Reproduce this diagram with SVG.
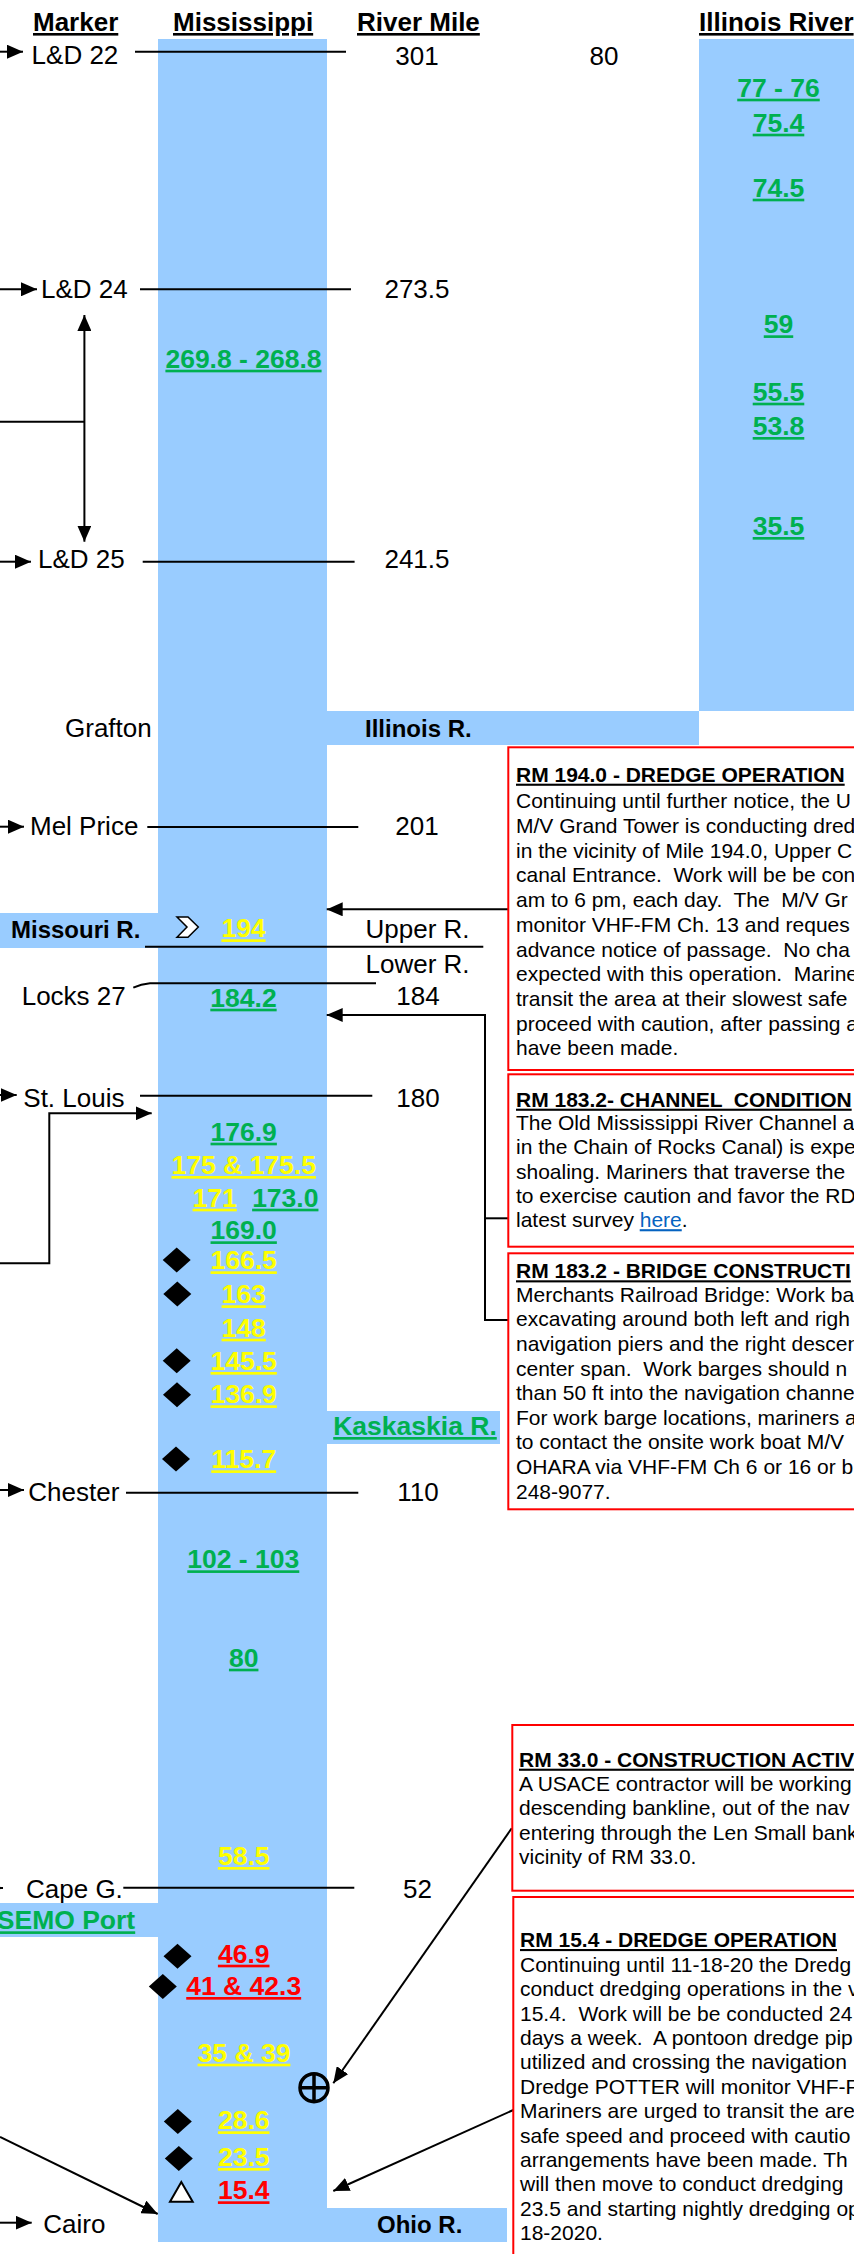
<svg xmlns="http://www.w3.org/2000/svg" width="854" height="2254" viewBox="0 0 854 2254">
<style>
text{font-family:"Liberation Sans",Arial,sans-serif}
.h{font-weight:bold;font-size:26px;text-decoration:underline;fill:#000}
.t{font-size:26px;fill:#000}
.rm{font-size:26px;fill:#000;text-anchor:middle}
.rb{font-weight:bold;font-size:24px;fill:#000}
.n{font-weight:bold;font-size:26.5px;text-anchor:middle;text-decoration:underline}
.g{fill:#00B050}
.y{fill:#FFFF00}
.r{fill:#FF0000}
.bt{font-weight:bold;font-size:21px;text-decoration:underline;fill:#000}
.bb{font-size:21px;fill:#000}
.lnk{fill:#0563C1;text-decoration:underline}
.water{fill:#99CCFF}
.box{fill:#fff;stroke:#FF0000;stroke-width:2}
.c{fill:none;stroke:#000;stroke-width:2}
.dia{fill:#000}
</style>
<defs>
<marker id="ah" viewBox="0 0 16 14" refX="16" refY="7" markerWidth="16" markerHeight="14" markerUnits="userSpaceOnUse" orient="auto-start-reverse"><path d="M0,0 L16,7 L0,14 z" fill="#000"/></marker>
</defs>
<rect width="854" height="2254" fill="#fff"/>

<g id="rivers">
<rect class="water" x="158" y="39" width="169" height="2203"/>
<rect class="water" x="699" y="39" width="160" height="672"/>
<rect id="illinois-band" class="water" x="327" y="711" width="372" height="34"/>
<rect id="missouri-band" class="water" x="0" y="913" width="158" height="35"/>
<rect id="kaskaskia-band" class="water" x="327" y="1411" width="173" height="33"/>
<rect id="semo-band" class="water" x="0" y="1903" width="158" height="34"/>
<rect id="ohio-band" class="water" x="327" y="2208" width="180" height="34"/>
</g>

<g id="headers">
<text class="h" x="33" y="31">Marker</text>
<text class="h" x="173" y="31">Mississippi</text>
<text class="h" x="357" y="31">River Mile</text>
<text class="h" x="699" y="31">Illinois River</text>
</g>

<g id="connectors">
<path class="c" d="M0,51.7 H23" marker-end="url(#ah)"/>
<path class="c" d="M135,51.7 H346"/>
<path class="c" d="M0,289.3 H37" marker-end="url(#ah)"/>
<path class="c" d="M140,289.3 H351"/>
<path class="c" d="M84.4,315 V541.7" marker-start="url(#ah)" marker-end="url(#ah)"/>
<path class="c" d="M0,421.7 H84.4"/>
<path class="c" d="M0,561.7 H31" marker-end="url(#ah)"/>
<path class="c" d="M142.7,561.7 H354.6"/>
<path class="c" d="M0,826.7 H24" marker-end="url(#ah)"/>
<path class="c" d="M147.3,827 H358.3"/>
<path class="c" d="M508.3,909.3 H326.7" marker-end="url(#ah)"/>
<path class="c" d="M145,946.7 H483.3"/>
<path class="c" d="M133.3,987.7 Q141,984 150,983.3 H376"/>
<path class="c" d="M508.3,1218.3 H485"/>
<path class="c" d="M508.3,1320 H485 V1015 H326.7" marker-end="url(#ah)"/>
<path class="c" d="M0,1095 H16.7" marker-end="url(#ah)"/>
<path class="c" d="M140,1095.7 H372.3"/>
<path class="c" d="M0,1263.3 H49.3 V1113.3 H151.7" marker-end="url(#ah)"/>
<path class="c" d="M0,1490 H24" marker-end="url(#ah)"/>
<path class="c" d="M126,1492.7 H358.3"/>
<path class="c" d="M-20,1888 H3" marker-end="url(#ah)"/>
<path class="c" d="M123.3,1887.7 H354.3"/>
<path class="c" d="M511.7,1828.3 L333.3,2083.3" marker-end="url(#ah)"/>
<path class="c" d="M0,2137 L157.7,2214" marker-end="url(#ah)"/>
<path class="c" d="M513.3,2110 L333.3,2191" marker-end="url(#ah)"/>
<path class="c" d="M0,2222.7 H31.7" marker-end="url(#ah)"/>
</g>

<g id="markers-left">
<text class="t" x="31.6" y="64">L&amp;D 22</text>
<text class="t" x="41" y="298">L&amp;D 24</text>
<text class="t" x="38" y="568">L&amp;D 25</text>
<text class="t" x="65" y="737">Grafton</text>
<text class="t" x="30" y="835">Mel Price</text>
<text class="rb" x="11" y="938">Missouri R.</text>
<text class="t" x="21.7" y="1005">Locks 27</text>
<text class="t" x="23.3" y="1106.7">St. Louis</text>
<text class="t" x="28.3" y="1501">Chester</text>
<text class="t" x="26" y="1898">Cape G.</text>
<text class="n g" x="66" y="1929.3">SEMO Port</text>
<text class="t" x="43.3" y="2233">Cairo</text>
</g>

<g id="river-miles">
<text class="rm" x="417" y="65">301</text>
<text class="rm" x="604" y="65">80</text>
<text class="rm" x="417" y="298">273.5</text>
<text class="rm" x="417" y="568">241.5</text>
<text class="rm" x="417" y="835">201</text>
<text class="rm" x="417.5" y="938">Upper R.</text>
<text class="rm" x="417.5" y="973">Lower R.</text>
<text class="rm" x="418" y="1005">184</text>
<text class="rm" x="418" y="1106.7">180</text>
<text class="rm" x="418" y="1501">110</text>
<text class="rm" x="417.5" y="1898">52</text>
</g>

<g id="band-labels">
<text class="rb" x="365" y="736.7">Illinois R.</text>
<text class="n g" x="415" y="1435" style="text-anchor:middle">Kaskaskia R.</text>
<text class="rb" x="377" y="2233">Ohio R.</text>
</g>

<g id="illinois-miles">
<text class="n g" x="778.5" y="96.7">77 - 76</text>
<text class="n g" x="778.5" y="131.7">75.4</text>
<text class="n g" x="778.5" y="196.7">74.5</text>
<text class="n g" x="778.5" y="333.3">59</text>
<text class="n g" x="778.5" y="400.7">55.5</text>
<text class="n g" x="778.5" y="435">53.8</text>
<text class="n g" x="778.5" y="535">35.5</text>
</g>

<g id="mississippi-miles">
<text class="n g" x="243.5" y="367.7">269.8 - 268.8</text>
<polygon id="chevron" points="177,917 188,917 198.3,927 188,937.3 177,937.3 187,927" fill="#fff" stroke="#000" stroke-width="1.5"/>
<text class="n y" x="243.5" y="937.3">194</text>
<text class="n g" x="243.5" y="1006.7">184.2</text>
<text class="n g" x="243.7" y="1140.7">176.9</text>
<text class="n y" x="243.7" y="1174">175 &amp; 175.5</text>
<text class="n y" x="214.7" y="1206.7">171</text>
<text class="n g" x="285.3" y="1206.7">173.0</text>
<text class="n g" x="243.7" y="1239.3">169.0</text>
<text class="n y" x="243.7" y="1269.3">166.5</text>
<text class="n y" x="243.7" y="1303.3">163</text>
<text class="n y" x="243.7" y="1336.7">148</text>
<text class="n y" x="243.7" y="1370">145.5</text>
<text class="n y" x="243.7" y="1403.3">136.9</text>
<text class="n y" x="243.7" y="1468.3">115.7</text>
<text class="n g" x="243.3" y="1568.3">102 - 103</text>
<text class="n g" x="243.7" y="1666.7">80</text>
<text class="n y" x="243.7" y="1865">58.5</text>
<text class="n r" x="243.7" y="1962.7">46.9</text>
<text class="n r" x="243.7" y="1995">41 &amp; 42.3</text>
<text class="n y" x="244" y="2061.7">35 &amp; 39</text>
<text class="n y" x="243.7" y="2129.3">28.6</text>
<text class="n y" x="243.7" y="2166">23.5</text>
<text class="n r" x="243.7" y="2199.3">15.4</text>
</g>

<g id="symbols">
<polygon class="dia" points="176.7,1247.5 190.7,1260 176.7,1272.5 162.7,1260"/>
<polygon class="dia" points="177.3,1281.5 191.3,1294 177.3,1306.5 163.3,1294"/>
<polygon class="dia" points="176.7,1348.3 190.7,1360.8 176.7,1373.3 162.7,1360.8"/>
<polygon class="dia" points="177,1382.3 191,1394.8 177,1407.3 163,1394.8"/>
<polygon class="dia" points="176,1446.5 190,1459 176,1471.5 162,1459"/>
<polygon class="dia" points="177.5,1943.8 191.5,1956.3 177.5,1968.8 163.5,1956.3"/>
<polygon class="dia" points="162.8,1974 176.8,1986.5 162.8,1999 148.8,1986.5"/>
<polygon class="dia" points="177.8,2109 191.8,2121.5 177.8,2134 163.8,2121.5"/>
<polygon class="dia" points="178.8,2146 192.8,2158.5 178.8,2171 164.8,2158.5"/>
<polygon id="triangle" points="181.3,2182 192.7,2201.7 170,2201.7" fill="#fff" stroke="#000" stroke-width="2"/>
<g id="crosshair" fill="none" stroke="#000" stroke-width="3.5">
<circle cx="314" cy="2087.7" r="14"/>
<path d="M300,2087.7 H328 M314,2073.7 V2101.7"/>
</g>
</g>

<g id="box-rm194">
<rect class="box" x="508.3" y="747.3" width="360" height="322.7"/>
<text class="bt" x="516" y="781.7">RM 194.0 - DREDGE OPERATION</text>
<text class="bb" x="516" y="808.3" xml:space="preserve">Continuing until further notice, the U</text>
<text class="bb" x="516" y="833" xml:space="preserve">M/V Grand Tower is conducting dred</text>
<text class="bb" x="516" y="857.7" xml:space="preserve">in the vicinity of Mile 194.0, Upper C</text>
<text class="bb" x="516" y="882.4" xml:space="preserve">canal Entrance.  Work will be be con</text>
<text class="bb" x="516" y="907.1" xml:space="preserve">am to 6 pm, each day.  The  M/V Gr</text>
<text class="bb" x="516" y="931.8" xml:space="preserve">monitor VHF-FM Ch. 13 and reques</text>
<text class="bb" x="516" y="956.5" xml:space="preserve">advance notice of passage.  No cha</text>
<text class="bb" x="516" y="981.2" xml:space="preserve">expected with this operation.  Marine</text>
<text class="bb" x="516" y="1005.9" xml:space="preserve">transit the area at their slowest safe</text>
<text class="bb" x="516" y="1030.6" xml:space="preserve">proceed with caution, after passing a</text>
<text class="bb" x="516" y="1055.3" xml:space="preserve">have been made.</text>
</g>

<g id="box-rm183-channel">
<rect class="box" x="508.3" y="1074.3" width="360" height="172.4"/>
<text class="bt" x="516" y="1106.7" xml:space="preserve">RM 183.2- CHANNEL  CONDITION</text>
<text class="bb" x="516" y="1130" xml:space="preserve">The Old Mississippi River Channel a</text>
<text class="bb" x="516" y="1154.3" xml:space="preserve">in the Chain of Rocks Canal) is expe</text>
<text class="bb" x="516" y="1178.6" xml:space="preserve">shoaling. Mariners that traverse the</text>
<text class="bb" x="516" y="1202.9" xml:space="preserve">to exercise caution and favor the RD</text>
<text class="bb" x="516" y="1227.2" xml:space="preserve">latest survey <tspan class="lnk">here</tspan>.</text>
</g>

<g id="box-rm183-bridge">
<rect class="box" x="508.3" y="1253.3" width="360" height="256"/>
<text class="bt" x="516" y="1278.3">RM 183.2 - BRIDGE CONSTRUCTI</text>
<text class="bb" x="516" y="1301.7" xml:space="preserve">Merchants Railroad Bridge: Work ba</text>
<text class="bb" x="516" y="1326.3" xml:space="preserve">excavating around both left and righ</text>
<text class="bb" x="516" y="1350.9" xml:space="preserve">navigation piers and the right descen</text>
<text class="bb" x="516" y="1375.5" xml:space="preserve">center span.  Work barges should n</text>
<text class="bb" x="516" y="1400.1" xml:space="preserve">than 50 ft into the navigation channe</text>
<text class="bb" x="516" y="1424.7" xml:space="preserve">For work barge locations, mariners a</text>
<text class="bb" x="516" y="1449.3" xml:space="preserve">to contact the onsite work boat M/V</text>
<text class="bb" x="516" y="1473.9" xml:space="preserve">OHARA via VHF-FM Ch 6 or 16 or b</text>
<text class="bb" x="516" y="1498.5" xml:space="preserve">248-9077.</text>
</g>

<g id="box-rm33">
<rect class="box" x="512.3" y="1725" width="360" height="165.7"/>
<text class="bt" x="519" y="1766.7">RM 33.0 - CONSTRUCTION ACTIV</text>
<text class="bb" x="519" y="1790.5" xml:space="preserve">A USACE contractor will be working</text>
<text class="bb" x="519" y="1815" xml:space="preserve">descending bankline, out of the nav</text>
<text class="bb" x="519" y="1839.5" xml:space="preserve">entering through the Len Small bank</text>
<text class="bb" x="519" y="1864" xml:space="preserve">vicinity of RM 33.0.</text>
</g>

<g id="box-rm15">
<rect class="box" x="513.3" y="1897" width="360" height="380"/>
<text class="bt" x="520" y="1947">RM 15.4 - DREDGE OPERATION</text>
<text class="bb" x="520" y="1971.7" xml:space="preserve">Continuing until 11-18-20 the Dredg</text>
<text class="bb" x="520" y="1996.1" xml:space="preserve">conduct dredging operations in the v</text>
<text class="bb" x="520" y="2020.5" xml:space="preserve">15.4.  Work will be be conducted 24</text>
<text class="bb" x="520" y="2044.9" xml:space="preserve">days a week.  A pontoon dredge pip</text>
<text class="bb" x="520" y="2069.3" xml:space="preserve">utilized and crossing the navigation</text>
<text class="bb" x="520" y="2093.7" xml:space="preserve">Dredge POTTER will monitor VHF-F</text>
<text class="bb" x="520" y="2118.1" xml:space="preserve">Mariners are urged to transit the are</text>
<text class="bb" x="520" y="2142.5" xml:space="preserve">safe speed and proceed with cautio</text>
<text class="bb" x="520" y="2166.9" xml:space="preserve">arrangements have been made. Th</text>
<text class="bb" x="520" y="2191.3" xml:space="preserve">will then move to conduct dredging</text>
<text class="bb" x="520" y="2215.7" xml:space="preserve">23.5 and starting nightly dredging op</text>
<text class="bb" x="520" y="2240.1" xml:space="preserve">18-2020.</text>
</g>
</svg>
